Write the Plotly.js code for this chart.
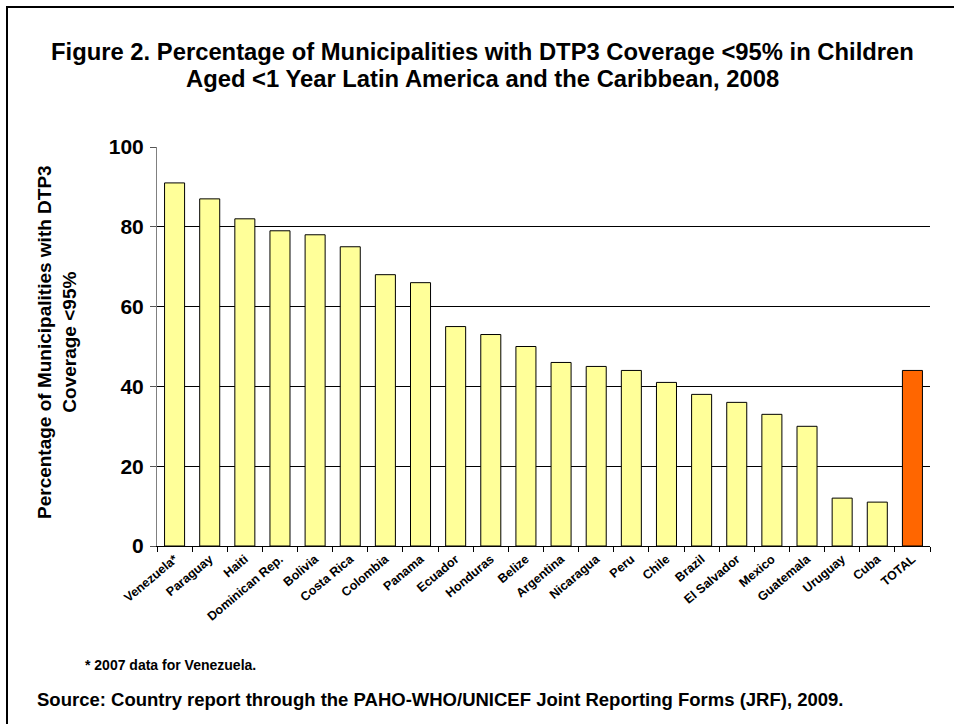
<!DOCTYPE html>
<html>
<head>
<meta charset="utf-8">
<script src="https://cdn.plot.ly/plotly-3.0.1.min.js"></script>
<style>
  html, body { margin: 0; padding: 0; background: #fff; }
  #wrap { position: relative; width: 954px; height: 724px; overflow: hidden; }
  #frame { position: absolute; left: 6px; top: 6px; width: 1000px; height: 1000px;
           border-left: 2px solid #000; border-top: 2px solid #000; pointer-events: none; }
  #chart { position: absolute; left: 0; top: 0; width: 954px; height: 724px; }
</style>
</head>
<body>
<div id="wrap">
  <div id="chart"></div>
  <div id="frame"></div>
</div>
<script>
const countries = ["Venezuela*", "Paraguay", "Haiti", "Dominican Rep.", "Bolivia", "Costa Rica",
  "Colombia", "Panama", "Ecuador", "Honduras", "Belize", "Argentina", "Nicaragua", "Peru",
  "Chile", "Brazil", "El Salvador", "Mexico", "Guatemala", "Uruguay", "Cuba", "TOTAL"];
const percentages = [91, 87, 82, 79, 78, 75, 68, 66, 55, 53, 50, 46, 45, 44, 41, 38, 36, 33, 30, 12, 11, 44];
const yTicks = [0, 20, 40, 60, 80, 100];
const titleLines = [
  "Figure 2. Percentage of Municipalities with DTP3 Coverage <95% in Children",
  "Aged <1 Year Latin America and the Caribbean, 2008"
];

const barColors = countries.map(c => c === "TOTAL" ? "#FF6600" : "#FFFF99");
const FONT = "Arial, 'Liberation Sans', sans-serif";

const PL = 157, PR = 930, PT = 147, PB = 546;
const px2x = x => (x - PL) / (PR - PL);
const px2y = y => (PB - y) / (PB - PT);

const trace = {
  type: "bar",
  x: countries,
  y: percentages,
  marker: { color: barColors, line: { color: "#000", width: 1 } },
  hoverinfo: "x+y"
};

const annotations = [
  {
    text: titleLines[0], xref: "paper", yref: "paper", x: px2x(482), y: px2y(52),
    xanchor: "center", yanchor: "middle", showarrow: false,
    font: { family: FONT, size: 23.8, weight: "bold", color: "#000" }
  },
  {
    text: titleLines[1], xref: "paper", yref: "paper", x: px2x(482), y: px2y(78),
    xanchor: "center", yanchor: "middle", showarrow: false,
    font: { family: FONT, size: 23.8, weight: "bold", color: "#000" }
  },
  {
    text: "Percentage of Municipalities with DTP3<br>Coverage <95%",
    textangle: -90, xref: "paper", yref: "paper", x: px2x(57), y: px2y(342),
    xanchor: "center", yanchor: "middle", showarrow: false,
    font: { family: FONT, size: 19, weight: "bold", color: "#000" }
  },
  {
    text: "* 2007 data for Venezuela.",
    xref: "paper", yref: "paper", x: px2x(83), y: px2y(665),
    xanchor: "left", yanchor: "middle", showarrow: false,
    font: { family: FONT, size: 14, weight: "bold", color: "#000" }
  },
  {
    text: "Source: Country report through the PAHO-WHO/UNICEF Joint Reporting Forms (JRF), 2009.",
    xref: "paper", yref: "paper", x: px2x(35), y: px2y(699),
    xanchor: "left", yanchor: "middle", showarrow: false,
    font: { family: FONT, size: 18.5, weight: "bold", color: "#000" }
  }
];

const layout = {
  width: 954, height: 724,
  margin: { l: PL, r: 954 - PR, t: PT, b: 724 - PB },
  paper_bgcolor: "#fff", plot_bgcolor: "#fff",
  bargap: 0.43,
  showlegend: false,
  font: { family: FONT, color: "#000" },
  xaxis: {
    type: "category",
    tickangle: -40,
    tickfont: { family: FONT, size: 12.5, weight: "bold", color: "#000" },
    ticks: "outside", ticklen: 5, tickcolor: "#000", tickson: "boundaries",
    showline: true, linecolor: "#000", linewidth: 1,
    showgrid: false, zeroline: false, fixedrange: true
  },
  yaxis: {
    range: [0, 100],
    tickvals: yTicks,
    tickfont: { family: FONT, size: 21, weight: "bold", color: "#000" },
    ticks: "outside", ticklen: 6, tickcolor: "#555",
    showline: true, linecolor: "#808080", linewidth: 1,
    showgrid: true, gridcolor: "#000", gridwidth: 1,
    zeroline: false, fixedrange: true, ticklabelstandoff: 2
  },
  annotations: annotations
};

Plotly.newPlot("chart", [trace], layout, { displayModeBar: false, staticPlot: true });
</script>
</body>
</html>
